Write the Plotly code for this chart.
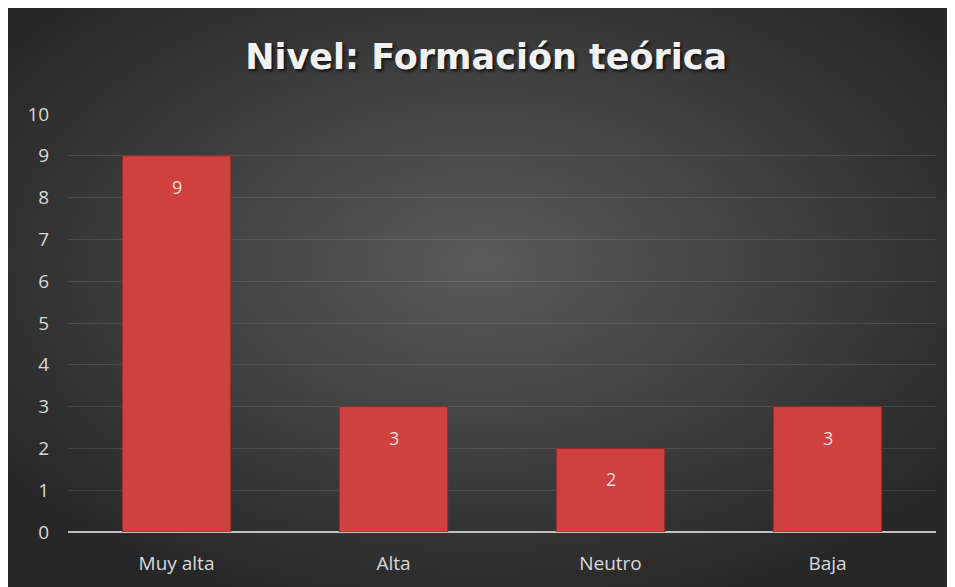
"""Bar chart: Nivel - Formación teórica."""

import base64

import plotly.graph_objects as go

categories = ["Muy alta", "Alta", "Neutro", "Baja"]
values = [9, 3, 2, 3]
y_ticks = list(range(0, 11))

# page body adds an 8px offset, so the figure is 8px smaller than the window
W, H = 947, 579
L, R, T, B = 60, 19, 106, 55

# radial gradient background as an svg image
bg_svg = f"""<svg xmlns='http://www.w3.org/2000/svg' width='{W}' height='{H}'>
<defs><radialGradient id='g' cx='50%' cy='44%' r='62%'>
<stop offset='0%' stop-color='#5a5a5a'/>
<stop offset='100%' stop-color='#272727'/>
</radialGradient></defs>
<rect width='100%' height='100%' fill='url(#g)'/></svg>"""
bg_src = "data:image/svg+xml;base64," + base64.b64encode(bg_svg.encode()).decode()

pw, ph = W - L - R, H - T - B

fig = go.Figure()

fig.add_trace(
    go.Bar(
        x=categories,
        y=values,
        marker=dict(color="#cf403e", line=dict(color="#8e2a28", width=1)),
        hoverinfo="x+y",
    )
)

# data labels inside the top of each bar
for cat, val in zip(categories, values):
    fig.add_annotation(
        x=cat,
        y=val,
        text=str(val),
        showarrow=False,
        yanchor="middle",
        yshift=-31,
        font=dict(family="Open Sans", size=18, color="#f2dcdc"),
    )

fig.add_layout_image(
    dict(
        source=bg_src,
        xref="paper",
        yref="paper",
        x=-L / pw,
        y=(H - B) / ph,
        sizex=W / pw,
        sizey=H / ph,
        sizing="stretch",
        xanchor="left",
        yanchor="top",
        layer="below",
    )
)

fig.update_layout(
    width=W,
    height=H,
    title=dict(
        text="<b>Nivel: Formación teórica</b>",
        x=0.505,
        xanchor="center",
        y=0.915,
        yanchor="middle",
        font=dict(
            family="DejaVu Sans",
            size=35,
            color="#f2f2f2",
            shadow="2px 2px 3px #111111",
        ),
    ),
    bargap=0.5,
    showlegend=False,
    plot_bgcolor="rgba(0,0,0,0)",
    paper_bgcolor="#2a2a2a",
    margin=dict(l=L, r=R, t=T, b=B),
    xaxis=dict(
        showgrid=False,
        tickfont=dict(family="Open Sans", size=19, color="#d9d9d9"),
        ticks="outside",
        ticklen=14,
        tickcolor="rgba(0,0,0,0)",
        showline=False,
    ),
    yaxis=dict(
        range=[0, 10],
        tickvals=y_ticks,
        tickfont=dict(family="Open Sans", size=19, color="#d9d9d9"),
        gridcolor="rgba(255,255,255,0.11)",
        gridwidth=1,
        zeroline=True,
        zerolinecolor="#c0c0c0",
        zerolinewidth=2,
        ticks="outside",
        ticklen=14,
        tickcolor="rgba(0,0,0,0)",
        showline=False,
    ),
)

fig.write_html("out.html")
